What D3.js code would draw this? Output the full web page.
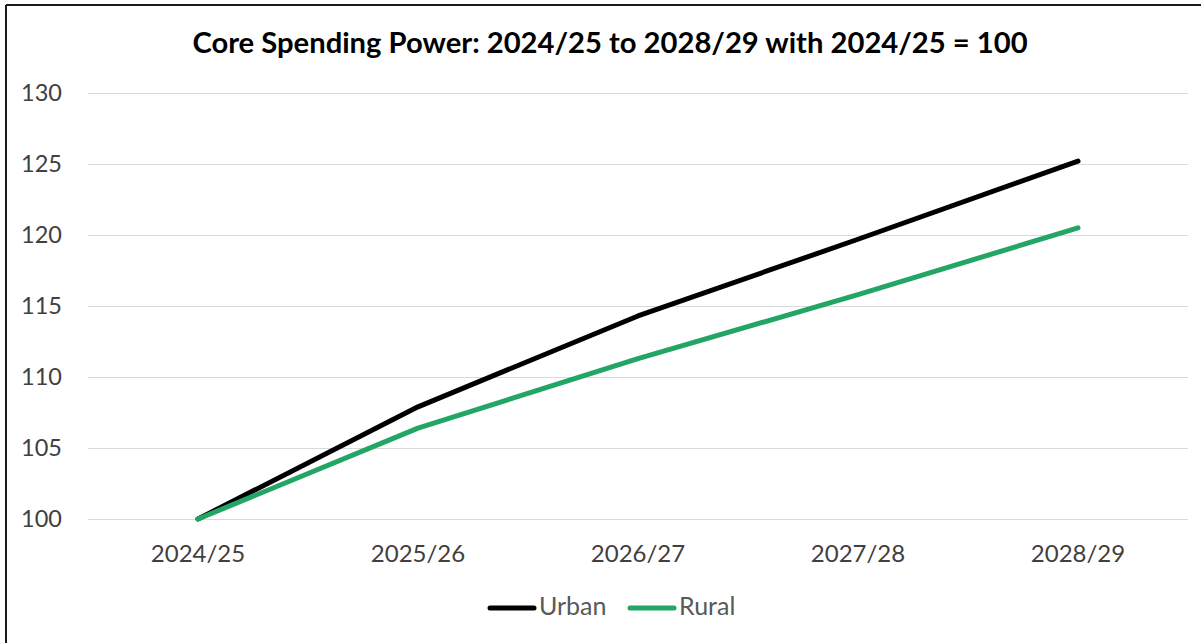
<!DOCTYPE html>
<html>
<head>
<meta charset="utf-8">
<script src="https://cdn.jsdelivr.net/npm/d3@7"></script>
<style>
  html, body { margin: 0; padding: 0; background: #fff; }
  svg { display: block; }
  text { font-family: Lato, "Open Sans", "Liberation Sans", sans-serif; }
</style>
</head>
<body>
<svg id="chart" width="1201" height="643"></svg>
<script>
// Fiscal years on the x axis
const years = ["2024/25", "2025/26", "2026/27", "2027/28", "2028/29"];
// Core spending power index (2024/25 = 100)
const urban = [100, 107.9, 114.3, 119.7, 125.2];
const rural = [100, 106.4, 111.3, 115.8, 120.5];
const yTicks = [100, 105, 110, 115, 120, 125, 130];
const seriesNames = ["Urban", "Rural"];
const seriesColors = ["#000000", "#22a565"];

const svg = d3.select("#chart");
const W = 1201, H = 643;

// Outer frame (top and left edges visible)
svg.append("line").attr("x1", 6).attr("x2", W).attr("y1", 5).attr("y2", 5)
  .attr("stroke", "#1a1a1a").attr("stroke-width", 2);
svg.append("line").attr("x1", 6).attr("x2", 6).attr("y1", 5).attr("y2", H)
  .attr("stroke", "#1a1a1a").attr("stroke-width", 2);

const plot = { left: 88, right: 1188, top: 93, bottom: 519 };

const x = d3.scaleBand().domain(years).range([plot.left, plot.right]).padding(0);
const y = d3.scaleLinear().domain([100, 130]).range([plot.bottom, plot.top]);

// Title
svg.append("text")
  .attr("x", 610).attr("y", 53)
  .attr("text-anchor", "middle")
  .attr("font-size", 29.2).attr("font-weight", 700).attr("fill", "#000")
  .text("Core Spending Power: 2024/25 to 2028/29 with 2024/25 = 100");

// Horizontal gridlines
svg.append("g").selectAll("line").data(yTicks).join("line")
  .attr("x1", plot.left).attr("x2", plot.right)
  .attr("y1", d => Math.round(y(d)) + 0.5).attr("y2", d => Math.round(y(d)) + 0.5)
  .attr("stroke", "#d9d9d9").attr("stroke-width", 1);

// Y axis labels
const yAxis = d3.axisLeft(y).tickValues(yTicks).tickSize(0).tickPadding(0);
const gy = svg.append("g").attr("transform", `translate(62,0)`).call(yAxis);
gy.select(".domain").remove();
gy.selectAll("text").attr("font-size", 23.5).attr("fill", "#404040")
  .style("font-family", "Lato, 'Open Sans', sans-serif");

// X axis labels
const xAxis = d3.axisBottom(x).tickSize(0).tickPadding(0);
const gx = svg.append("g").attr("transform", `translate(0,562)`).call(xAxis);
gx.select(".domain").remove();
gx.selectAll("text").attr("y", 0).attr("dy", 0).attr("font-size", 24).attr("fill", "#404040")
  .style("font-family", "Lato, 'Open Sans', sans-serif");

// Lines
const line = d3.line()
  .x((d, i) => x(years[i]) + x.bandwidth() / 2)
  .y(d => y(d));

[urban, rural].forEach((vals, i) => {
  svg.append("path")
    .datum(vals)
    .attr("d", line)
    .attr("fill", "none")
    .attr("stroke", seriesColors[i])
    .attr("stroke-width", 5)
    .attr("stroke-linecap", "round")
    .attr("stroke-linejoin", "round");
});

// Legend
const legendItems = [
  { name: seriesNames[0], color: seriesColors[0], x0: 488 },
  { name: seriesNames[1], color: seriesColors[1], x0: 628 }
];
const lg = svg.append("g");
legendItems.forEach(it => {
  lg.append("line")
    .attr("x1", it.x0 + 2).attr("x2", it.x0 + 46)
    .attr("y1", 608).attr("y2", 608)
    .attr("stroke", it.color).attr("stroke-width", 5).attr("stroke-linecap", "round");
  lg.append("text")
    .attr("x", it.x0 + 51).attr("y", 615)
    .attr("font-size", 25).attr("fill", "#595959")
    .text(it.name);
});
</script>
</body>
</html>
